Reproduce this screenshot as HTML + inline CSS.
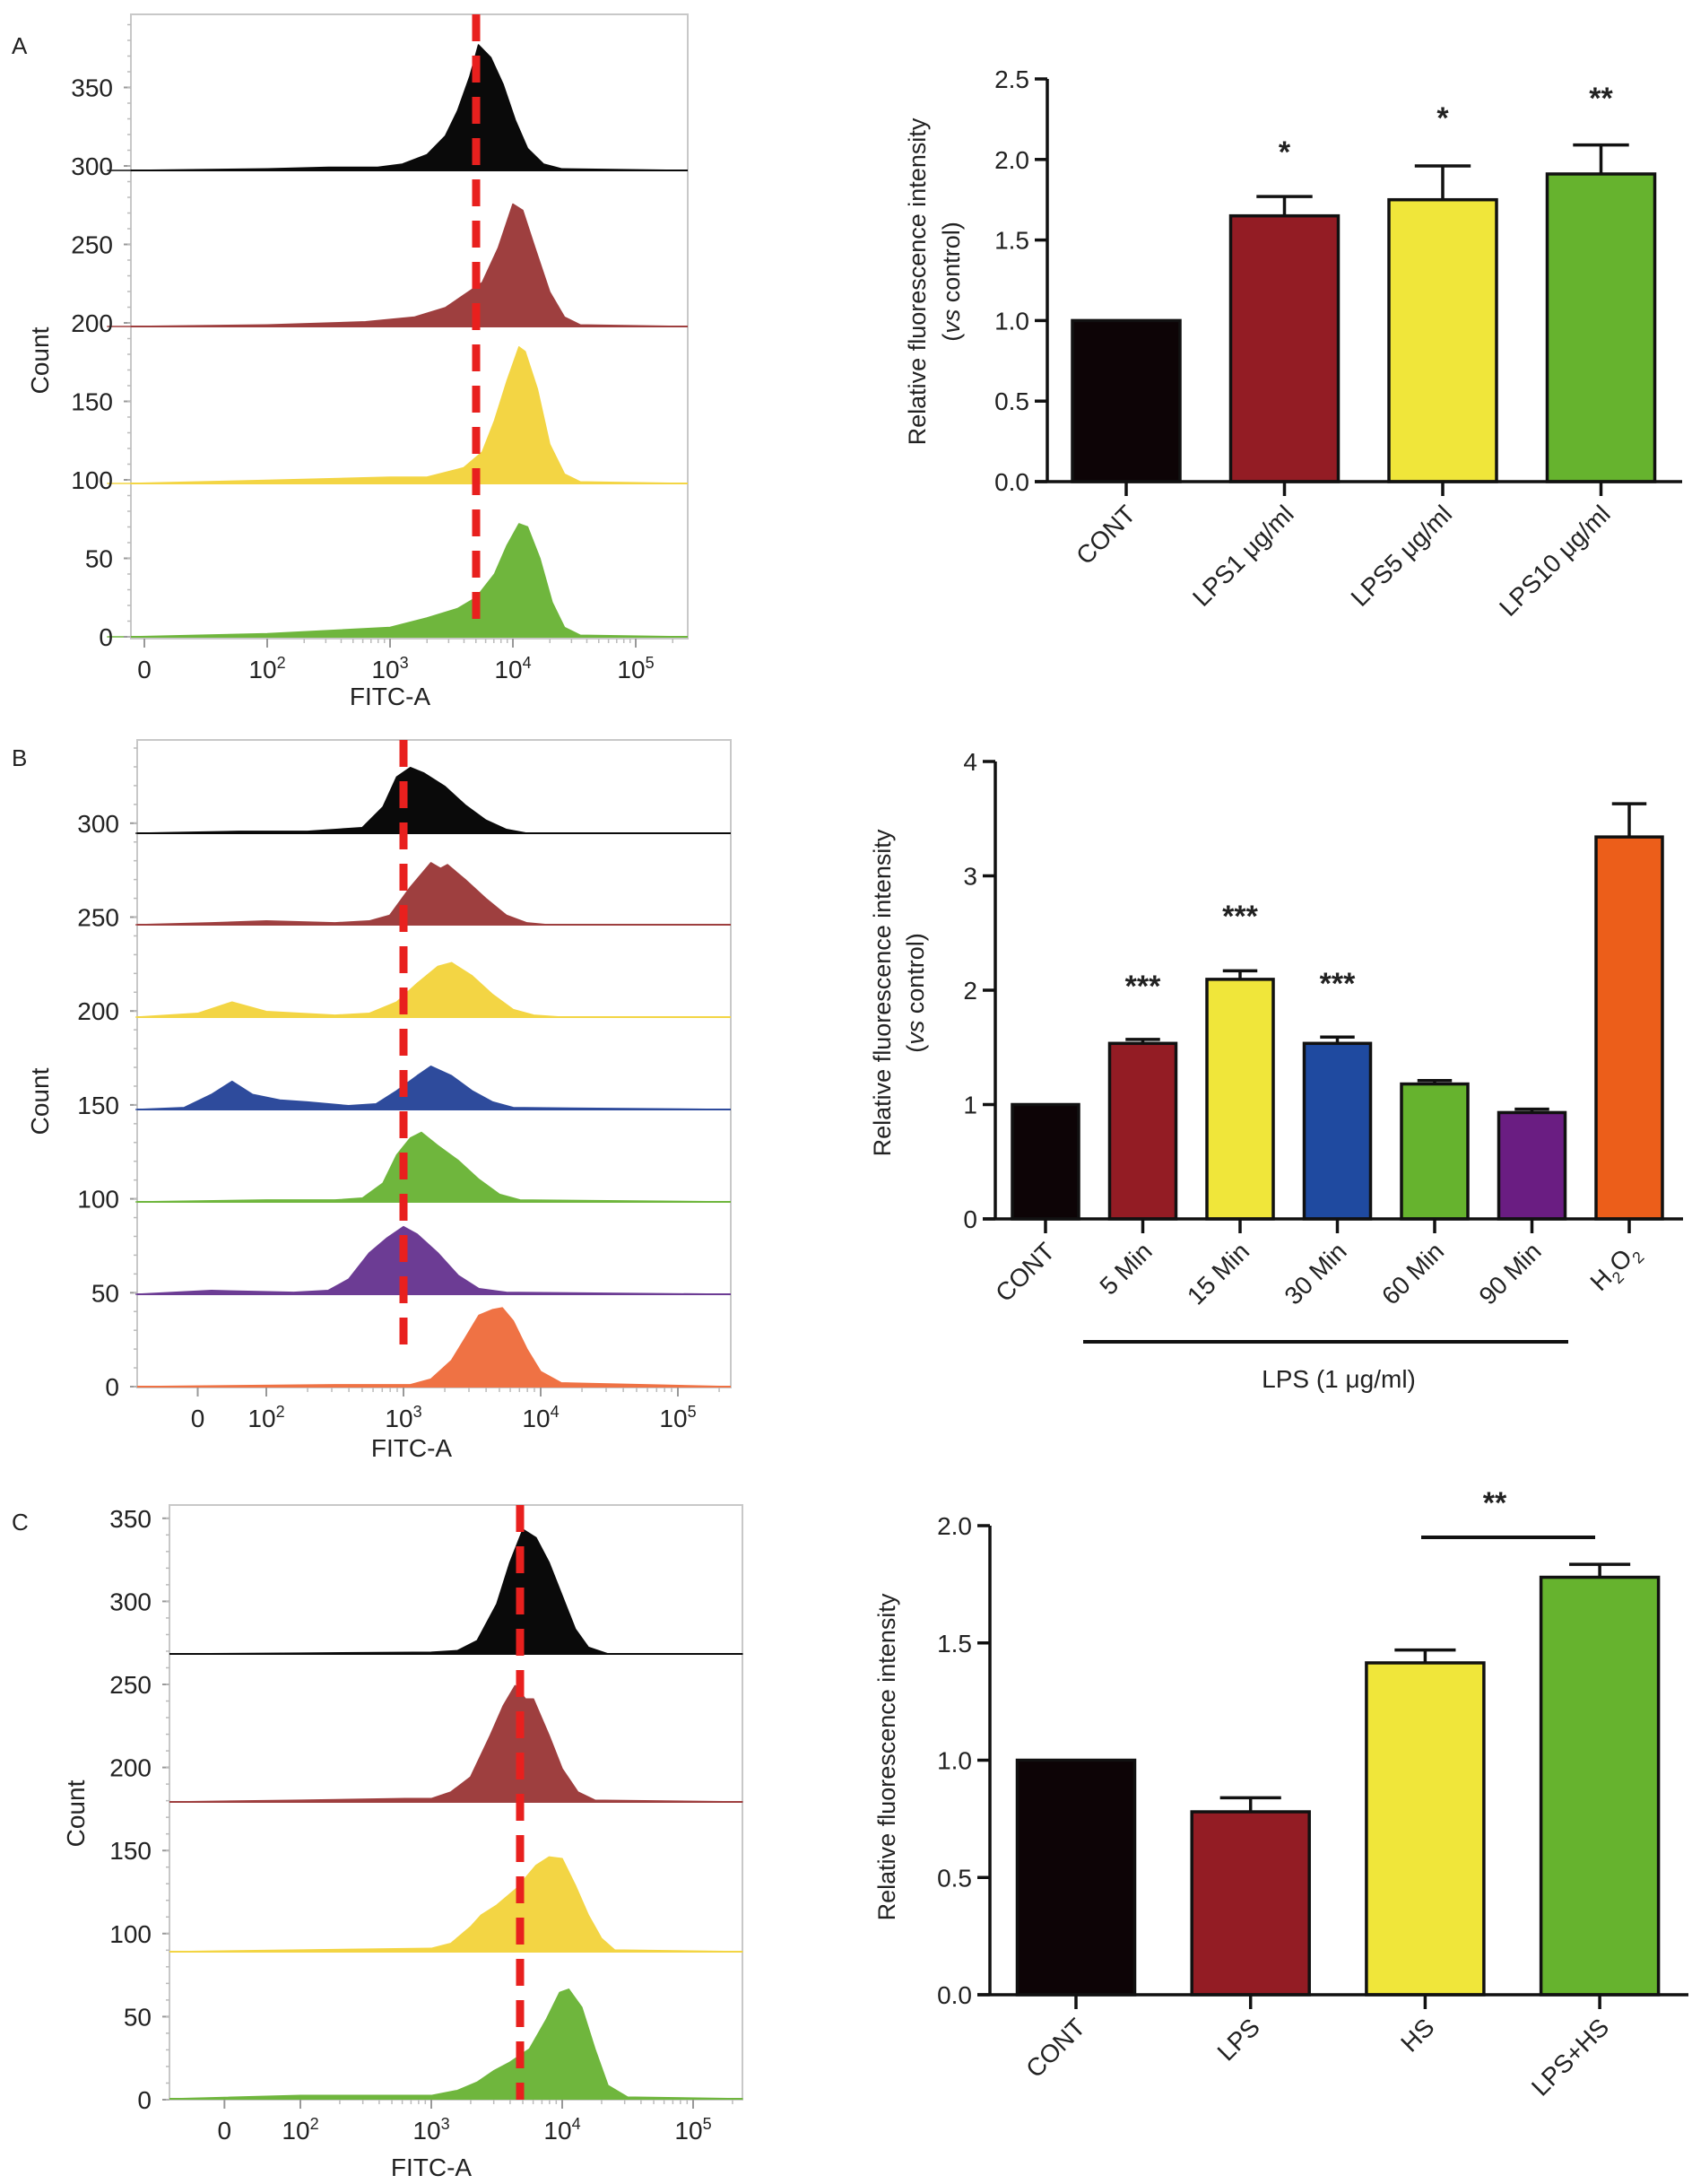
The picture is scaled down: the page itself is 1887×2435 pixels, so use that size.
<!DOCTYPE html>
<html><head><meta charset="utf-8">
<style>
html,body{margin:0;padding:0;background:#fff;}
svg{display:block;font-family:"Liberation Sans",Arial,sans-serif;}
</style></head>
<body>
<svg id="fig" xmlns="http://www.w3.org/2000/svg" width="1887" height="2435" viewBox="0 0 1887 2435"></svg>
<script>
// ---------- Histogram data (x in log10 decades, y in counts above each trace baseline) ----------
const histA_black_x=[0.7,2,2.5,2.9,3.1,3.3,3.45,3.55,3.65,3.72,3.82,3.92,4.02,4.12,4.25,4.4,5.4];
const histA_black_y=[0,1,2,2,4,10,22,38,60,80,72,55,32,14,4,1,0];
const histA_red_x=[0.7,2,2.8,3.2,3.45,3.6,3.75,3.88,4.0,4.08,4.18,4.3,4.42,4.55,5.4];
const histA_red_y=[0,1,3,6,12,20,28,50,78,74,50,22,6,1,0];
const histA_yellow_x=[0.7,2,3,3.3,3.6,3.75,3.85,3.95,4.05,4.1,4.2,4.3,4.42,4.55,5.4];
const histA_yellow_y=[0,2,4,4,10,20,40,65,87,84,60,25,6,1,0];
const histA_green_x=[0.7,2,3,3.3,3.55,3.7,3.85,3.95,4.05,4.12,4.22,4.32,4.42,4.55,5.4];
const histA_green_y=[0,2,6,12,18,25,40,58,72,70,50,22,6,1,0];

const histB_black_x=[1.05,1.8,2.3,2.7,2.85,2.95,3.05,3.15,3.3,3.45,3.6,3.75,3.9,5.38];
const histB_black_y=[0,1,1,3,14,30,35,32,25,15,7,2,0,0];
const histB_red_x=[1.05,1.6,2.0,2.5,2.75,2.9,3.05,3.2,3.27,3.32,3.45,3.6,3.75,3.9,4.05,5.38];
const histB_red_y=[0,1,2,1,2,5,20,33,30,32,24,14,5,1,0,0];
const histB_yellow_x=[1.05,1.5,1.75,2.0,2.5,2.75,2.95,3.1,3.25,3.35,3.5,3.65,3.8,3.95,4.15,5.38];
const histB_yellow_y=[0,2,8,3,1,2,8,18,27,29,22,12,4,1,0,0];
const histB_blue_x=[1.05,1.4,1.6,1.75,1.9,2.1,2.3,2.6,2.8,2.95,3.1,3.2,3.35,3.5,3.65,3.8,5.38];
const histB_blue_y=[0,1,8,15,8,5,4,2,3,10,18,23,18,10,4,1,0];
const histB_green_x=[1.05,2,2.5,2.7,2.85,2.95,3.05,3.13,3.25,3.4,3.55,3.7,3.85,5.38];
const histB_green_y=[0,1,1,2,10,25,34,37,30,22,12,4,1,0];
const histB_purple_x=[1.05,1.6,2.2,2.45,2.6,2.75,2.88,3.0,3.1,3.25,3.4,3.55,3.75,5.38];
const histB_purple_y=[0,2,1,2,8,22,30,36,32,22,10,3,1,0];
const histB_orange_x=[1.05,2.5,3.05,3.2,3.35,3.45,3.55,3.65,3.72,3.8,3.9,4.0,4.15,5.38];
const histB_orange_y=[0,1,1,4,14,26,38,41,42,35,20,8,2,0];

const histC_black_x=[1.03,2,3.0,3.2,3.35,3.5,3.6,3.7,3.8,3.9,4.0,4.1,4.2,4.35,5.4];
const histC_black_y=[0,0.5,1,2,8,30,55,75,70,55,35,15,4,0,0];
const histC_red_x=[1.03,2,2.8,3.0,3.15,3.3,3.45,3.55,3.64,3.72,3.78,3.9,4.0,4.12,4.25,5.4];
const histC_red_y=[0,1,2,2,6,15,40,58,70,62,62,40,20,6,1,0];
const histC_yellow_x=[1.03,2,3.0,3.15,3.3,3.38,3.5,3.65,3.8,3.9,4.0,4.1,4.2,4.3,4.4,5.4];
const histC_yellow_y=[0,1,2,5,15,22,28,38,52,57,56,40,22,8,1,0];
const histC_green_x=[1.03,2,3.0,3.2,3.35,3.48,3.6,3.75,3.88,3.98,4.05,4.15,4.25,4.35,4.5,5.4];
const histC_green_y=[0,2,2,5,10,17,22,30,48,64,66,55,30,8,1,0];

const histYTicksA=[0,50,100,150,200,250,300,350];
const histYTicksB=[0,50,100,150,200,250,300];
const histYTicksC=[0,50,100,150,200,250,300,350];

// ---------- Bar chart data ----------
const barA_cats=["CONT","LPS1 μg/ml","LPS5 μg/ml","LPS10 μg/ml"];
const barA_vals=[1.0,1.65,1.75,1.91];
const barA_errs=[0,0.12,0.21,0.18];
const barA_sig=["","*","*","**"];
const barA_ticks=["0.0","0.5","1.0","1.5","2.0","2.5"];

const barB_cats=["CONT","5 Min","15 Min","30 Min","60 Min","90 Min","H2O2"];
const barB_vals=[1.0,1.535,2.095,1.535,1.18,0.93,3.34];
const barB_errs=[0,0.035,0.075,0.055,0.03,0.03,0.29];
const barB_sig=["","***","***","***","","",""];
const barB_ticks=["0","1","2","3","4"];

const barC_cats=["CONT","LPS","HS","LPS+HS"];
const barC_vals=[1.0,0.78,1.415,1.78];
const barC_errs=[0,0.06,0.055,0.055];
const barC_ticks=["0.0","0.5","1.0","1.5","2.0"];

const NS="http://www.w3.org/2000/svg";
const svg=document.getElementById('fig');
function mk(tag,attrs,parent){const e=document.createElementNS(NS,tag);for(const k in attrs)e.setAttribute(k,attrs[k]);(parent||svg).appendChild(e);return e;}
function txt(s,x,y,size,anchor,parent,extra){const t=mk('text',Object.assign({x:x,y:y,'font-size':size,'text-anchor':anchor||'middle',fill:'#222'},extra||{}),parent);t.textContent=s;return t;}

// ---------- Histogram panel ----------
function histPanel(cfg){
  const g=mk('g',{});
  
  
  const xs=d=>cfg.x0+(d-cfg.d0)*cfg.dec;
  const ys=v=>cfg.yZero-(v*cfg.ppc);
  const fr=mk('rect',{x:cfg.L,y:cfg.T,width:cfg.R-cfg.L,height:cfg.B-cfg.T,fill:'none',stroke:'#c8c8c8','stroke-width':2},g);
  
  
  cfg.traces.forEach(tr=>{
    let d='M'+xs(tr.x[0]).toFixed(1)+','+tr.base;
    for(let i=0;i<tr.x.length;i++){
      let px=Math.max(cfg.L,Math.min(cfg.R,xs(tr.x[i])));
      d+=' L'+px.toFixed(1)+','+(tr.base-tr.y[i]*cfg.ppc).toFixed(1);
    }
    d+=' L'+Math.min(cfg.R,xs(tr.x[tr.x.length-1])).toFixed(1)+','+tr.base+' Z';
    const p=mk('path',{d:d,fill:tr.c,stroke:tr.c,'stroke-width':1.5,'stroke-linejoin':'round'},g);
    
    
    const bl=mk('line',{x1:cfg.L,x2:cfg.R,y1:tr.base,y2:tr.base,stroke:tr.c,'stroke-width':2},g);
    
    
  });
  cfg.yticks.forEach(v=>{
    const y=ys(v);
    mk('line',{x1:cfg.L-8,x2:cfg.L,y1:y,y2:y,stroke:'#999','stroke-width':2},g);
    const t=txt(String(v),cfg.L-20,y+10,28,'end',g);
    
    
  });
  for(let v=0;v<=cfg.yticks[cfg.yticks.length-1]+40;v+=10){const y=ys(v);if(y<cfg.T)break;mk('line',{x1:cfg.L-4,x2:cfg.L,y1:y,y2:y,stroke:'#bbb','stroke-width':1.5},g);}
  const xl=[["0",cfg.zeroD],["10",2],["10",3],["10",4],["10",5]];
  const sup=["","2","3","4","5"];
  xl.forEach((a,i)=>{
    const x=xs(a[1]);
    mk('line',{x1:x,x2:x,y1:cfg.B,y2:cfg.B+10,stroke:'#999','stroke-width':2},g);
    const t=txt(a[0],x,cfg.B+44,28,'middle',g);
    if(sup[i]){const s=mk('tspan',{'font-size':18,dy:-11},t);s.textContent=sup[i];}
    
    
  });
  for(let d=2;d<5.4;d++){for(let k=2;k<10;k++){const x=xs(d+Math.log10(k));if(x<cfg.R)mk('line',{x1:x,x2:x,y1:cfg.B,y2:cfg.B+5,stroke:'#bbb','stroke-width':1.5},g);}}
  const dl=mk('line',{x1:cfg.dashX,x2:cfg.dashX,y1:cfg.T,y2:cfg.dashB,stroke:'#e8201e','stroke-width':9,'stroke-dasharray':'30,16'},g);
  
  
  const xt=txt('FITC-A',cfg.fitcX,cfg.fitcY,28,'middle',g);
  
  
  const yt=txt('Count',0,0,28,'middle',g,{transform:'translate('+cfg.countX+','+cfg.countY+') rotate(-90)'});
  
  
  const pl=txt(cfg.letter,cfg.letX,cfg.letY,26,'start',g);
  
  
}

histPanel({name:'histogram-panel-a',L:146,R:767,T:16,B:712,x0:435,d0:3,dec:137,zeroD:1.0,yZero:710,ppc:1.75,
  yticks:histYTicksA,dashX:531,dashB:693,fitcX:435,fitcY:786,countX:54,countY:402,letter:'A',letX:13,letY:60,
  traces:[{n:'trace-cont',c:'#0a0a0a',base:190,x:histA_black_x,y:histA_black_y},
          {n:'trace-lps1',c:'#9e3f3f',base:364,x:histA_red_x,y:histA_red_y},
          {n:'trace-lps5',c:'#f3d544',base:539,x:histA_yellow_x,y:histA_yellow_y},
          {n:'trace-lps10',c:'#6fb63d',base:710,x:histA_green_x,y:histA_green_y}]});

histPanel({name:'histogram-panel-b',L:153,R:815,T:825,B:1547,x0:450,d0:3,dec:153,zeroD:1.5,yZero:1546,ppc:2.094,
  yticks:histYTicksB,dashX:450,dashB:1513,fitcX:459,fitcY:1624,countX:54,countY:1228,letter:'B',letX:13,letY:854,
  traces:[{n:'trace-cont',c:'#0a0a0a',base:929,x:histB_black_x,y:histB_black_y},
          {n:'trace-5min',c:'#9e3f3f',base:1031,x:histB_red_x,y:histB_red_y},
          {n:'trace-15min',c:'#f3d544',base:1134,x:histB_yellow_x,y:histB_yellow_y},
          {n:'trace-30min',c:'#2e4b9c',base:1237,x:histB_blue_x,y:histB_blue_y},
          {n:'trace-60min',c:'#6fb63d',base:1340,x:histB_green_x,y:histB_green_y},
          {n:'trace-90min',c:'#6c3c94',base:1443,x:histB_purple_x,y:histB_purple_y},
          {n:'trace-h2o2',c:'#ef7244',base:1546,x:histB_orange_x,y:histB_orange_y}]});

histPanel({name:'histogram-panel-c',L:189,R:828,T:1678,B:2341,x0:481,d0:3,dec:146,zeroD:1.42,yZero:2341,ppc:1.852,
  yticks:histYTicksC,dashX:580,dashB:2341,fitcX:481,fitcY:2426,countX:94,countY:2022,letter:'C',letX:13,letY:1706,
  traces:[{n:'trace-cont',c:'#0a0a0a',base:1844,x:histC_black_x,y:histC_black_y},
          {n:'trace-lps',c:'#9e3f3f',base:2009,x:histC_red_x,y:histC_red_y},
          {n:'trace-hs',c:'#f3d544',base:2176,x:histC_yellow_x,y:histC_yellow_y},
          {n:'trace-lps-hs',c:'#6fb63d',base:2340,x:histC_green_x,y:histC_green_y}]});

// ---------- Bar panel ----------
function barPanel(cfg){
  const g=mk('g',{});
  
  
  const ys=v=>cfg.y0-v*cfg.ppu;
  const xs=i=>cfg.c0+i*cfg.step;
  cfg.vals.forEach((v,i)=>{
    const cx=xs(i),w=cfg.bw;
    if(cfg.errs[i]>0){
      const e=mk('line',{x1:cx,x2:cx,y1:ys(v),y2:ys(v+cfg.errs[i]),stroke:'#111','stroke-width':3.5},g);
      
      
      mk('line',{x1:cx-w*0.26,x2:cx+w*0.26,y1:ys(v+cfg.errs[i]),y2:ys(v+cfg.errs[i]),stroke:'#111','stroke-width':3.5},g);
    }
    const r=mk('rect',{x:cx-w/2,y:ys(v),width:w,height:cfg.y0-ys(v),fill:cfg.colors[i],stroke:'#111','stroke-width':3.5},g);
    
    
    if(cfg.sig&&cfg.sig[i]){
      const s=txt(cfg.sig[i],cx,cfg.sigY[i]+15,34,'middle',g,{'font-weight':'bold'});
      
      
    }
    mk('line',{x1:cx,x2:cx,y1:cfg.y0,y2:cfg.y0+16,stroke:'#111','stroke-width':3.5},g);
    const t=mk('text',{x:0,y:0,'font-size':28,'text-anchor':'end',fill:'#222',transform:'translate('+(cx+12)+','+(cfg.y0+38)+') rotate(-45)'},g);
    if(cfg.cats[i]==='H2O2'){t.appendChild(document.createTextNode('H'));const a=mk('tspan',{'font-size':18,dy:8},t);a.textContent='2';const b=mk('tspan',{dy:-8},t);b.textContent='O';const c=mk('tspan',{'font-size':18,dy:8},t);c.textContent='2';}
    else t.textContent=cfg.cats[i];
    
    
  });
  const ya=mk('line',{x1:cfg.ax,x2:cfg.ax,y1:cfg.y0+1.5,y2:ys(cfg.ymax),stroke:'#111','stroke-width':3.5},g);
  
  
  const xa=mk('line',{x1:cfg.ax-14,x2:cfg.xr,y1:cfg.y0,y2:cfg.y0,stroke:'#111','stroke-width':3.5},g);
  
  
  cfg.ticks.forEach((s,i)=>{
    const y=ys(i*cfg.tstep);
    mk('line',{x1:cfg.ax-14,x2:cfg.ax,y1:y,y2:y,stroke:'#111','stroke-width':3.5},g);
    const t=txt(s,cfg.ax-20,y+10,28,'end',g);
    
    
  });
  const yt=mk('text',{x:0,y:0,'font-size':27,'text-anchor':'middle',fill:'#222',transform:'translate('+cfg.ytX+','+cfg.ytY+') rotate(-90)'},g);
  yt.textContent='Relative fluorescence intensity';
  
  
  if(cfg.yt2X){
    const y2=mk('text',{x:0,y:0,'font-size':27,'text-anchor':'middle',fill:'#222',transform:'translate('+cfg.yt2X+','+cfg.ytY+') rotate(-90)'},g);
    y2.appendChild(document.createTextNode('('));const it=mk('tspan',{'font-style':'italic'},y2);it.textContent='vs';y2.appendChild(document.createTextNode(' control)'));
    
    
  }
  return g;
}

barPanel({name:'bar-chart-a',cats:barA_cats,vals:barA_vals,errs:barA_errs,sig:barA_sig,sigY:[0,166,128,106],
  colors:['#0d0406','#931c24','#f0e63a','#66b32e'],y0:537,ppu:179.6,ymax:2.5,tstep:0.5,ticks:barA_ticks,
  ax:1168,xr:1876,c0:1256,step:176.5,bw:120,ytX:1032,yt2X:1070,ytY:314});

const gB=barPanel({name:'bar-chart-b',cats:barB_cats,vals:barB_vals,errs:barB_errs,sig:barB_sig,sigY:[0,1096,1018,1093,0,0,0],
  colors:['#0d0406','#931c24','#f0e63a','#1f4aa0','#66b32e','#6a1d82','#ec5e1a'],y0:1359,ppu:127.5,ymax:4,tstep:1,ticks:barB_ticks,
  ax:1110,xr:1877,c0:1166,step:108.5,bw:74,ytX:993,yt2X:1030,ytY:1107});
const lb=mk('line',{x1:1208,x2:1749,y1:1496,y2:1496,stroke:'#111','stroke-width':4},gB);


const lt=txt('LPS (1 μg/ml)',1493,1547,28,'middle',gB);



const gC=barPanel({name:'bar-chart-c',cats:barC_cats,vals:barC_vals,errs:barC_errs,sig:null,sigY:[],
  colors:['#0d0406','#931c24','#f0e63a','#66b32e'],y0:2224,ppu:261.5,ymax:2.0,tstep:0.5,ticks:barC_ticks,
  ax:1104,xr:1883,c0:1200,step:194.7,bw:131,ytX:998,ytY:1959});
const cb=mk('line',{x1:1585,x2:1779,y1:1714,y2:1714,stroke:'#111','stroke-width':4},gC);


const cs=txt('**',1667,1687,34,'middle',gC,{'font-weight':'bold'});


</script>
</body></html>
